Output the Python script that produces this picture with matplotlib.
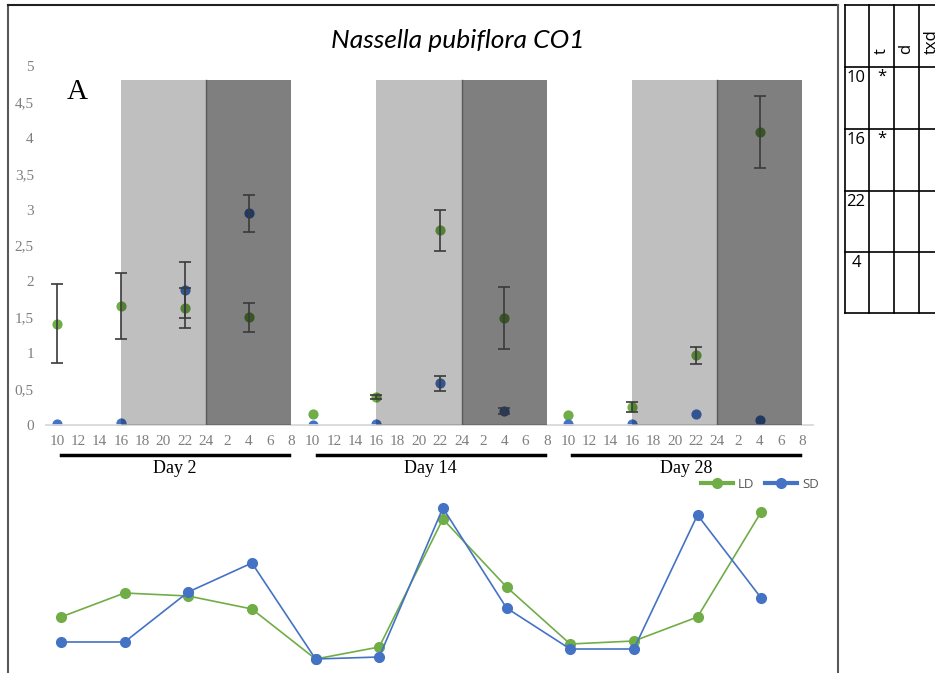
import matplotlib
matplotlib.use("Agg")
import matplotlib.pyplot as plt
from matplotlib.lines import Line2D
from matplotlib.transforms import blended_transform_factory

# --- data -------------------------------------------------------------------
days = ["Day 2", "Day 14", "Day 28"]
hours = ["10", "12", "14", "16", "18", "20", "22", "24", "2", "4", "6", "8"]
sample_slots = [0, 3, 6, 9]            # 10h, 16h, 22h, 4h within each day

ld_mean = [1.41, 1.66, 1.63, 1.50, 0.16, 0.39, 2.71, 1.49, 0.14, 0.25, 0.97, 4.08]
ld_err  = [0.55, 0.46, 0.28, 0.20, 0.00, 0.03, 0.28, 0.43, 0.00, 0.07, 0.12, 0.50]
sd_mean = [0.01, 0.03, 1.88, 2.95, 0.00, 0.01, 0.58, 0.20, 0.01, 0.01, 0.16, 0.07]
sd_err  = [0.00, 0.00, 0.39, 0.26, 0.00, 0.00, 0.10, 0.04, 0.00, 0.00, 0.00, 0.00]

# relative profile (bottom panel, no scale shown)
ld_rel = [4.3, 6.7, 6.4, 5.1, 0.1, 1.3, 14.1, 7.3, 1.6, 1.9, 4.3, 14.8]
sd_rel = [1.8, 1.8, 6.8, 9.7, 0.1, 0.3, 15.2, 5.2, 1.1, 1.1, 14.5, 6.2]

table_rows = ["10", "16", "22", "4"]
table_cols = ["t", "d", "txd"]
table_marks = [["*", "", ""], ["*", "", ""], ["", "", ""], ["", "", ""]]

GREEN, BLUE = "#70AD47", "#4472C4"
W, H = 935, 673

fig = plt.figure(figsize=(W / 100, H / 100), dpi=100)

def fx(px):
    return px / W

def fy(py):
    return 1 - py / H

# --- top panel --------------------------------------------------------------
ax = fig.add_axes([fx(46.35), fy(425), fx(813) - fx(46.35), fy(66) - fy(425)])

n_per_day = len(hours)
xpos = [d * n_per_day + s for d in range(len(days)) for s in sample_slots]

ax.scatter(xpos, ld_mean, s=54, color=GREEN, zorder=2, linewidths=0)
ax.scatter(xpos, sd_mean, s=54, color=BLUE, zorder=2, linewidths=0)

# light (16-24h) and dark (24-8h) shading, drawn on top like a tinted overlay
for d in range(len(days)):
    start = d * n_per_day + 3
    ax.bar(start, 4.8, width=4, align="edge", color="black", alpha=0.25, zorder=3, linewidth=0)
    ax.bar(start + 4, 4.8, width=4, align="edge", color="black", alpha=0.5, zorder=3, linewidth=0)
    ax.plot([start + 4, start + 4], [0, 4.8], color="#595959", lw=1, zorder=3)

for m, e in ((ld_mean, ld_err), (sd_mean, sd_err)):
    xs = [x for x, v in zip(xpos, e) if v > 0]
    ys = [y for y, v in zip(m, e) if v > 0]
    es = [v for v in e if v > 0]
    ax.errorbar(xs, ys, yerr=es, fmt="none", ecolor="#3A3A3A", elinewidth=1.2,
                capsize=4, capthick=1.2, zorder=4)

ax.set_xlim(-0.5, 35.5)
ax.set_ylim(0, 5)
ax.set_xticks(range(n_per_day * len(days)))
ax.set_xticklabels(hours * len(days))
yt = [i * 0.5 for i in range(11)]
ax.set_yticks(yt)
ax.set_yticklabels([f"{v:g}".replace(".", ",") for v in yt])
ax.tick_params(length=0, labelsize=11, labelcolor="#7F7F7F")
ax.tick_params(axis="x", pad=7)
ax.tick_params(axis="y", pad=9)
for lab in ax.get_xticklabels() + ax.get_yticklabels():
    lab.set_fontfamily("Liberation Serif")
for side in ("top", "right", "left"):
    ax.spines[side].set_visible(False)
ax.spines["bottom"].set_color("#D9D9D9")
ax.spines["bottom"].set_linewidth(1.3)
ax.set_zorder(2)

# day brackets under the hour labels
tr = blended_transform_factory(ax.transData, ax.transAxes)
for d, name in enumerate(days):
    x0 = d * n_per_day + 0.2
    x1 = d * n_per_day + 10.9
    ax.plot([x0, x1], [-0.084, -0.084], color="black", lw=2.5, transform=tr, clip_on=False)
    ax.text((x0 + x1) / 2, -0.12, name, transform=tr, ha="center", va="center",
            fontsize=13, family="Liberation Serif")

fig.text(fx(77), fy(92), "A", ha="center", va="center", fontsize=21, family="Liberation Serif")
fig.text(fx(458), fy(40), "Nassella pubiflora CO1", ha="center", va="center",
         fontsize=19, style="italic", family="Lato")

# --- bottom panel -----------------------------------------------------------
ax2 = fig.add_axes([fx(10), 0, fx(835) - fx(10), fy(495)])
k = list(range(len(ld_rel)))
ax2.plot(k, ld_rel, color=GREEN, lw=1.2, marker="o", ms=7, label="LD")
ax2.plot(k, sd_rel, color=BLUE, lw=1.2, marker="o", ms=7, label="SD")
ax2.set_xlim(-0.80, 12.16)
ax2.set_ylim(-1.3, 16.5)
ax2.axis("off")
leg = ax2.legend(loc="center", bbox_to_anchor=(fx(760), fy(484)), bbox_transform=fig.transFigure,
                 ncol=2, frameon=False, handlelength=2.4, columnspacing=0.8, handletextpad=0.4,
                 prop={"family": "Open Sans", "size": 9.5})
for t in leg.get_texts():
    t.set_color("#595959")
for h in leg.get_lines():
    h.set_linewidth(3)

# --- frame around the chart -------------------------------------------------
frame = dict(transform=fig.transFigure, color="#595959", lw=1.5)
fig.add_artist(Line2D([fx(8), fx(8)], [0, fy(5)], **frame))
fig.add_artist(Line2D([fx(8), fx(838)], [fy(5), fy(5)], **dict(frame, color="#202020")))
fig.add_artist(Line2D([fx(838), fx(838)], [0, fy(5)], **frame))

# --- significance table -----------------------------------------------------
col_edges = [845, 869, 894, 919, 944]
row_edges = [5, 67, 129, 191, 252, 313]
tline = dict(transform=fig.transFigure, color="black", lw=1.2)
for cx in col_edges[:-1]:
    fig.add_artist(Line2D([fx(cx), fx(cx)], [fy(row_edges[0]), fy(row_edges[-1])], **tline))
for ry in row_edges:
    fig.add_artist(Line2D([fx(col_edges[0]), fx(W)], [fy(ry), fy(ry)], **tline))

tfont = dict(family="Open Sans", fontsize=12, color="black")
for j, c in enumerate(table_cols):
    cx = (col_edges[j + 1] + col_edges[j + 2]) / 2
    fig.text(fx(cx), fy(54), c, rotation=90, ha="center", va="bottom", **tfont)
for i, r in enumerate(table_rows):
    top = row_edges[i + 1]
    fig.text(fx(856), fy(top + 3), r, ha="center", va="top", **tfont)
    for j, mk in enumerate(table_marks[i]):
        if mk:
            cx = (col_edges[j + 1] + col_edges[j + 2]) / 2
            fig.text(fx(cx), fy(top + 2), mk, ha="center", va="top", **tfont)

fig.savefig("out.png", dpi=100)
